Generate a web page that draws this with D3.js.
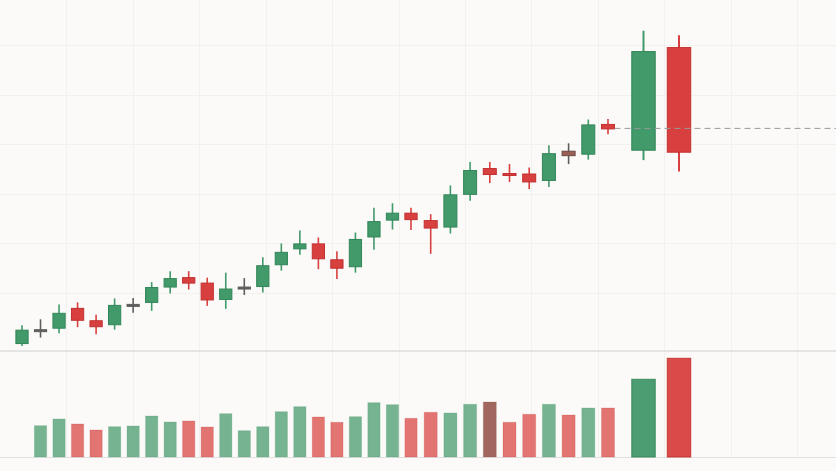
<!DOCTYPE html>
<html lang="en">
	<head>
		<meta charset="utf-8">
		<title>Candles and Volume</title>

		<style type="text/css">

			body {
				margin: 0;
				background-color: #fbfaf8;
				font-family: Helvetica, Arial, sans-serif;
			}

			svg {
				display: block;
				background-color: #fbfaf8;
			}

			.grid line {
				stroke: #f2f1ee;
				stroke-width: 1;
				shape-rendering: crispEdges;
			}

			.divider {
				stroke: #dcdcdc;
				stroke-width: 1.5;
			}

			.baseline {
				stroke: #e0e0e0;
				stroke-width: 1;
			}

			.priceline {
				stroke: #9a9a9a;
				stroke-width: 1;
				stroke-dasharray: 6, 4;
			}

		</style>
	</head>
	<body>

	<script type="text/javascript" src="https://cdnjs.cloudflare.com/ajax/libs/d3/7.8.5/d3.min.js"></script>
	<script type="text/javascript">

		// ---- data ----
		var days = ["03-01", "03-04", "03-05", "03-06", "03-07", "03-08", "03-11", "03-12", "03-13",
			"03-14", "03-15", "03-18", "03-19", "03-20", "03-21", "03-22", "03-25", "03-26", "03-27",
			"03-28", "04-01", "04-02", "04-03", "04-04", "04-05", "04-08", "04-09", "04-10", "04-11",
			"04-12", "04-15", "04-16", "04-17", "04-18"];

		var opens  = [89.8, 92.6, 92.9, 96.9, 94.4, 93.6, 97.7, 98.1, 101.2, 103.1, 102.0, 98.7, 101.2,
			101.3, 105.7, 108.9, 109.9, 106.7, 105.3, 111.3, 114.7, 116.1, 114.6, 113.3, 119.9, 125.1,
			124.1, 124.0, 122.7, 128.6, 128.0, 134.0, 128.8, 149.5];
		var highs  = [93.5, 94.7, 97.7, 98.1, 95.6, 98.9, 99.0, 102.2, 104.4, 104.4, 103.1, 104.1, 103.0,
			107.2, 110.0, 112.6, 111.2, 108.4, 112.2, 117.2, 118.1, 117.2, 115.9, 121.7, 126.4, 126.4,
			126.0, 125.3, 129.8, 130.2, 135.0, 135.1, 152.9, 152.0];
		var lows   = [89.3, 91.0, 91.9, 93.1, 91.7, 92.6, 96.0, 96.4, 99.9, 100.7, 97.4, 96.8, 99.6,
			100.1, 104.5, 107.7, 104.8, 102.8, 104.1, 108.7, 112.8, 112.7, 107.9, 112.0, 118.6, 122.2,
			122.4, 121.0, 121.4, 126.0, 126.9, 132.0, 126.8, 124.5];
		var closes = [92.5, 92.6, 95.9, 94.5, 93.2, 97.5, 97.7, 101.1, 102.9, 102.0, 98.6, 100.8, 101.2,
			105.5, 108.2, 109.9, 106.9, 105.0, 110.8, 114.4, 116.1, 114.8, 113.1, 119.8, 124.7, 123.9,
			123.8, 122.4, 128.1, 127.7, 133.9, 133.1, 148.7, 128.4];
		var volumes = [null, 313, 380, 330, 270, 303, 310, 410, 350, 360, 300, 433, 263, 303, 453, 503,
			400, 347, 403, 543, 523, 387, 447, 440, 527, 550, 347, 427, 527, 420, 490, 490, 777, 987];

		var priceTicks = [100, 110, 120, 130, 140, 150];
		var refPrice = 133.2;

		// ---- layout ----
		var fullwidth = 836;
		var fullheight = 471;
		var paneBottom = 351;   // price pane ends here
		var volBottom = 457;

		// odd ones out in the picture
		var mutedCandle = 29;
		var mutedVolume = 25;

		var green = "#42996a", greenLine = "#318658";
		var red = "#d8403f", redLine = "#c22f2f";
		var gray = "#5e5e5e";
		var brown = "#9c5f56";

		var svg = d3.select("body")
			.append("svg")
			.attr("width", fullwidth)
			.attr("height", fullheight);

		var idx = d3.range(days.length);

		// last two candles are drawn wider and further apart
		var xScale = d3.scaleLinear()
			.domain([0, 21, 31, 33])
			.range([22, 411, 608, 679]);

		var yScale = d3.scaleLinear()
			.domain([88.3, 159.1])
			.range([paneBottom, 0]);

		var vScale = d3.scaleLinear()
			.domain([0, 1000])
			.range([volBottom, volBottom - 100]);

		var gridX = d3.scaleLinear()
			.domain([0, 12])
			.range([0, 797]);

		function step(i) {
			var a = i > 0 ? xScale(i) - xScale(i - 1) : Infinity;
			var b = i < days.length - 1 ? xScale(i + 1) - xScale(i) : Infinity;
			return Math.min(a, b);
		}

		function bodyWidth(i) {
			return step(i) * 0.66;
		}

		function candleColor(i) {
			if (i === mutedCandle) return brown;
			if (closes[i] > opens[i]) return green;
			if (closes[i] < opens[i]) return red;
			return gray;
		}

		function candleLine(i) {
			if (i === mutedCandle) return "#6a4a45";
			if (closes[i] > opens[i]) return greenLine;
			if (closes[i] < opens[i]) return redLine;
			return gray;
		}

		// grid
		var grid = svg.append("g").attr("class", "grid");

		grid.selectAll("line.h")
			.data(priceTicks)
			.enter()
			.append("line")
			.attr("class", "h")
			.attr("x1", 0)
			.attr("x2", fullwidth)
			.attr("y1", function(d) { return Math.round(yScale(d)) + 0.5; })
			.attr("y2", function(d) { return Math.round(yScale(d)) + 0.5; });

		grid.selectAll("line.v")
			.data(d3.range(1, 13))
			.enter()
			.append("line")
			.attr("class", "v")
			.attr("x1", function(d) { return Math.round(gridX(d)) + 0.5; })
			.attr("x2", function(d) { return Math.round(gridX(d)) + 0.5; })
			.attr("y1", 0)
			.attr("y2", volBottom);

		svg.append("line")
			.attr("class", "divider")
			.attr("x1", 0)
			.attr("x2", fullwidth)
			.attr("y1", paneBottom)
			.attr("y2", paneBottom);

		svg.append("line")
			.attr("class", "baseline")
			.attr("x1", 0)
			.attr("x2", fullwidth)
			.attr("y1", volBottom + 0.5)
			.attr("y2", volBottom + 0.5);

		// candles
		var candles = svg.append("g")
			.selectAll("g")
			.data(idx)
			.enter()
			.append("g");

		candles.append("line")
			.attr("x1", function(i) { return xScale(i); })
			.attr("x2", function(i) { return xScale(i); })
			.attr("y1", function(i) { return yScale(highs[i]); })
			.attr("y2", function(i) { return yScale(lows[i]); })
			.attr("stroke", function(i) { return i === mutedCandle ? gray : candleColor(i); })
			.attr("stroke-width", function(i) { return bodyWidth(i) > 20 ? 2 : 1.6; });

		candles.append("rect")
			.attr("x", function(i) { return xScale(i) - bodyWidth(i) / 2; })
			.attr("width", function(i) { return bodyWidth(i); })
			.attr("y", function(i) { return yScale(Math.max(opens[i], closes[i])); })
			.attr("height", function(i) {
				return Math.max(2, Math.abs(yScale(opens[i]) - yScale(closes[i])));
			})
			.attr("fill", candleColor)
			.attr("stroke", candleLine)
			.attr("stroke-width", 1);

		// dashed price line
		svg.append("line")
			.attr("class", "priceline")
			.attr("x1", xScale(31) + bodyWidth(31) / 2)
			.attr("x2", fullwidth)
			.attr("y1", yScale(refPrice))
			.attr("y2", yScale(refPrice));

		// volume
		var vols = idx.filter(function(i) { return volumes[i] != null; });
		var lastTwo = days.length - 2;

		svg.append("g")
			.selectAll("rect")
			.data(vols)
			.enter()
			.append("rect")
			.attr("x", function(i) { return xScale(i) - bodyWidth(i) / 2; })
			.attr("width", function(i) { return bodyWidth(i); })
			.attr("y", function(i) { return vScale(volumes[i]); })
			.attr("height", function(i) { return vScale(0) - vScale(volumes[i]); })
			.attr("fill", function(i) {
				if (i === mutedVolume) return brown;
				return closes[i] >= opens[i] ? green : red;
			})
			.attr("fill-opacity", function(i) {
				if (i >= lastTwo || i === mutedVolume) return 0.95;
				return 0.72;
			})
			.attr("stroke", function(i) {
				if (i === mutedVolume) return "#7e4a43";
				return closes[i] >= opens[i] ? greenLine : redLine;
			})
			.attr("stroke-opacity", function(i) { return i >= lastTwo ? 0.9 : 0.2; })
			.attr("stroke-width", 1);

	</script>
	</body>
</html>
